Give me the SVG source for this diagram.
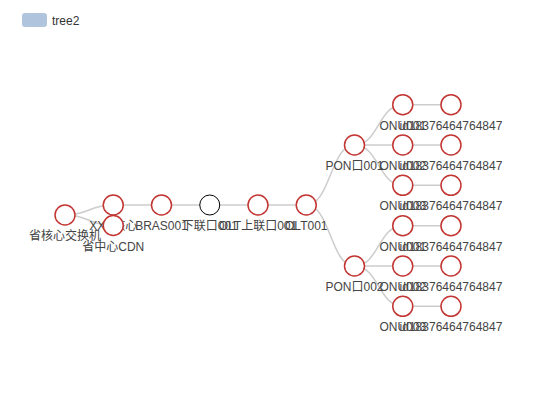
<svg xmlns="http://www.w3.org/2000/svg" width="550" height="420" viewBox="0 0 550 420">
<style>
  text { font-family: "Liberation Sans", "Noto Sans CJK SC", sans-serif; font-size: 12px; fill: #333; }
  .lbl { text-anchor: middle; fill: #444; }
  .n { fill: #fff; stroke: #c23531; stroke-width: 1.5; }
  .nb { fill: #fff; stroke: #000; stroke-width: 1; }
  .e { fill: none; stroke: #ccc; stroke-width: 1.5; }
</style>
<rect width="550" height="420" fill="#fff"/>
<g id="legend">
  <rect x="22" y="13" width="25" height="14" rx="3" fill="#b0c4de"/>
  <text x="52" y="24.5">tree2</text>
</g>
<g id="connectors">
  <path class="e" d="M65,215 C89.1,215 89.1,205 113.25,205"/>
  <path class="e" d="M65,215 C89.1,215 89.1,225.5 113.25,225.5"/>
  <path class="e" d="M113.25,205 L306.25,205"/>
  <path class="e" d="M306.25,205 C330.4,205 330.4,145 354.5,145"/>
  <path class="e" d="M306.25,205 C330.4,205 330.4,266 354.5,266"/>
  <path class="e" d="M354.5,145 C378.6,145 378.6,104.7 402.75,104.7"/>
  <path class="e" d="M354.5,145 L402.75,145"/>
  <path class="e" d="M354.5,145 C378.6,145 378.6,185.3 402.75,185.3"/>
  <path class="e" d="M354.5,266 C378.6,266 378.6,225.7 402.75,225.7"/>
  <path class="e" d="M354.5,266 L402.75,266"/>
  <path class="e" d="M354.5,266 C378.6,266 378.6,306.3 402.75,306.3"/>
  <path class="e" d="M402.75,104.7 L451,104.7"/>
  <path class="e" d="M402.75,145 L451,145"/>
  <path class="e" d="M402.75,185.3 L451,185.3"/>
  <path class="e" d="M402.75,225.7 L451,225.7"/>
  <path class="e" d="M402.75,266 L451,266"/>
  <path class="e" d="M402.75,306.3 L451,306.3"/>
</g>
<g id="root"><circle class="n" cx="65" cy="215" r="10"/><text class="lbl" x="65" y="240">省核心交换机</text></g>
<g id="xx-core"><circle class="n" cx="113.25" cy="205" r="10"/><text class="lbl" x="113.25" y="230">XXX核心</text></g>
<g id="bras"><circle class="n" cx="161.5" cy="205" r="10"/><text class="lbl" x="161.5" y="230">BRAS001</text></g>
<g id="down-port"><circle class="nb" cx="209.75" cy="205" r="10"/><text class="lbl" x="209.75" y="230">下联口001</text></g>
<g id="olt-up-port"><circle class="n" cx="258" cy="205" r="10"/><text class="lbl" x="258" y="230">OLT上联口001</text></g>
<g id="olt"><circle class="n" cx="306.25" cy="205" r="10"/><text class="lbl" x="306.25" y="230">OLT001</text></g>
<g id="pon1"><circle class="n" cx="354.5" cy="145" r="10"/><text class="lbl" x="354.5" y="170">PON口001</text></g>
<g id="pon1-onu1"><circle class="n" cx="402.75" cy="104.7" r="10"/><text class="lbl" x="402.75" y="129.7">ONU001</text></g>
<g id="pon1-onu1-id"><circle class="n" cx="451" cy="104.7" r="10"/><text class="lbl" x="451" y="129.7">id18376464764847</text></g>
<g id="pon1-onu2"><circle class="n" cx="402.75" cy="145" r="10"/><text class="lbl" x="402.75" y="170">ONU002</text></g>
<g id="pon1-onu2-id"><circle class="n" cx="451" cy="145" r="10"/><text class="lbl" x="451" y="170">id18376464764847</text></g>
<g id="pon1-onu3"><circle class="n" cx="402.75" cy="185.3" r="10"/><text class="lbl" x="402.75" y="210.3">ONU003</text></g>
<g id="pon1-onu3-id"><circle class="n" cx="451" cy="185.3" r="10"/><text class="lbl" x="451" y="210.3">id18376464764847</text></g>
<g id="pon2"><circle class="n" cx="354.5" cy="266" r="10"/><text class="lbl" x="354.5" y="291">PON口002</text></g>
<g id="pon2-onu1"><circle class="n" cx="402.75" cy="225.7" r="10"/><text class="lbl" x="402.75" y="250.7">ONU001</text></g>
<g id="pon2-onu1-id"><circle class="n" cx="451" cy="225.7" r="10"/><text class="lbl" x="451" y="250.7">id18376464764847</text></g>
<g id="pon2-onu2"><circle class="n" cx="402.75" cy="266" r="10"/><text class="lbl" x="402.75" y="291">ONU002</text></g>
<g id="pon2-onu2-id"><circle class="n" cx="451" cy="266" r="10"/><text class="lbl" x="451" y="291">id18376464764847</text></g>
<g id="pon2-onu3"><circle class="n" cx="402.75" cy="306.3" r="10"/><text class="lbl" x="402.75" y="331.3">ONU003</text></g>
<g id="pon2-onu3-id"><circle class="n" cx="451" cy="306.3" r="10"/><text class="lbl" x="451" y="331.3">id18376464764847</text></g>
<g id="cdn"><circle class="n" cx="113.25" cy="225.5" r="10"/><text class="lbl" x="113.25" y="250.5">省中心CDN</text></g>
</svg>
